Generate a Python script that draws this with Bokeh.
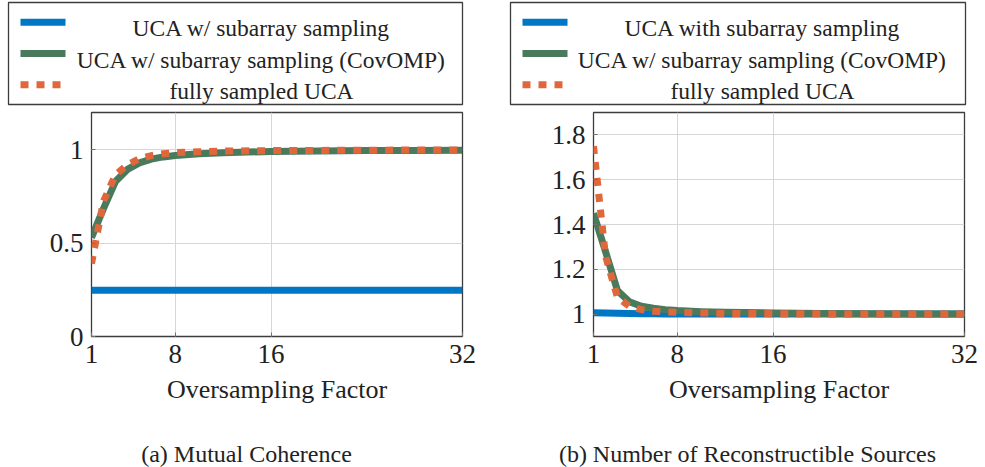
from bokeh.plotting import figure
from bokeh.layouts import row, column
from bokeh.models import FixedTicker, Range1d
from bokeh.embed import file_html
from bokeh.resources import INLINE

# ---------------- data ----------------
oversampling = [1, 2, 3, 4, 5, 6, 7, 8, 10, 12, 16, 20, 24, 28, 32]

# (a) Mutual Coherence
coh_subarray = [0.248, 0.248, 0.248, 0.248, 0.248, 0.248, 0.248, 0.248,
                0.248, 0.248, 0.248, 0.248, 0.248, 0.248, 0.248]
coh_covomp = [0.53, 0.685, 0.83, 0.895, 0.93, 0.95, 0.962, 0.97,
              0.979, 0.985, 0.991, 0.994, 0.996, 0.997, 0.998]
coh_full = [0.39, 0.725, 0.865, 0.92, 0.952, 0.969, 0.979, 0.985,
            0.99, 0.993, 0.996, 0.997, 0.998, 0.999, 0.999]

# (b) Number of Reconstructible Sources
src_subarray = [1.006, 1.005, 1.004, 1.003, 1.002, 1.002, 1.001, 1.001,
                1.001, 1.0, 1.0, 1.0, 1.0, 1.0, 1.0]
src_covomp = [1.45, 1.28, 1.105, 1.055, 1.035, 1.026, 1.02, 1.016,
              1.011, 1.008, 1.005, 1.003, 1.002, 1.001, 1.0]
src_full = [1.75, 1.26, 1.075, 1.035, 1.02, 1.013, 1.01, 1.008,
            1.005, 1.003, 1.002, 1.001, 1.001, 1.0, 1.0]

x_ticks = [1, 8, 16, 32]
coh_ticks = [0, 0.5, 1]
coh_tick_labels = ["0", "0.5", "1"]
src_ticks = [1, 1.2, 1.4, 1.6, 1.8]
src_tick_labels = ["1", "1.2", "1.4", "1.6", "1.8"]

x_label = "Oversampling Factor"
legend_a = ["UCA w/ subarray sampling",
            "UCA w/ subarray sampling (CovOMP)",
            "fully sampled UCA"]
legend_b = ["UCA with subarray sampling",
            "UCA w/ subarray sampling (CovOMP)",
            "fully sampled UCA"]
caption_a = "(a) Mutual Coherence"
caption_b = "(b) Number of Reconstructible Sources"

# ---------------- styles ----------------
BLUE = "#0077C4"
GREEN = "#4A7A5C"
ORANGE = "#E0663C"
SERIF = "'Liberation Serif', 'Times New Roman', serif"
FRAME = "#3c3c3c"
TEXT = "#222222"
colors = [BLUE, GREEN, ORANGE]
dashed = [False, False, True]

LEG_H = 108
MAIN_H = 312
CAP_H = 467 - LEG_H - MAIN_H


def blank(width, height):
    f = figure(width=width, height=height, output_backend="svg", toolbar_location=None,
               x_range=Range1d(0, width), y_range=Range1d(height, 0),
               min_border_left=0, min_border_right=0, min_border_top=0, min_border_bottom=0,
               frame_align=False)
    f.axis.visible = False
    f.grid.visible = False
    f.outline_line_color = None
    f.background_fill_color = "white"
    f.border_fill_color = "white"
    return f


def legend_fig(width, labels, box_l, box_r, glyph_l, glyph_r, lab_x):
    f = blank(width, LEG_H)
    f.quad(left=[box_l], right=[box_r], top=[2], bottom=[104],
           fill_color="white", line_color=FRAME, line_width=1.3)
    rows_y = [21.7, 53.0, 84.2]
    base_y = [27.7, 59.0, 90.3]
    for ry, c, d in zip(rows_y, colors, dashed):
        if d:
            f.line([glyph_l, glyph_r], [ry, ry], line_color=c, line_width=7,
                   line_dash="8 8", line_cap="butt")
        else:
            f.line([glyph_l, glyph_r], [ry, ry], line_color=c, line_width=7, line_cap="butt")
    f.text(x=[lab_x] * len(labels), y=base_y, text=labels,
           text_align="center", text_baseline="alphabetic",
           text_font={"value": SERIF}, text_font_size="23.5px", text_color=TEXT)
    return f


def caption_fig(width, caption, cap_x):
    f = blank(width, CAP_H)
    f.text(x=[cap_x], y=[453 - LEG_H - MAIN_H], text=[caption],
           text_align="center", text_baseline="alphabetic",
           text_font={"value": SERIF}, text_font_size="24px", text_color=TEXT)
    return f


def main_fig(width, b_left, b_right, y_lo, y_hi, y_ticks, y_labels, ys):
    p = figure(width=width, height=MAIN_H, output_backend="svg", toolbar_location=None,
               x_range=Range1d(1, 32), y_range=Range1d(y_lo, y_hi),
               min_border_left=b_left, min_border_right=b_right,
               min_border_top=112 - LEG_H, min_border_bottom=MAIN_H - 224 - (112 - LEG_H),
               frame_align=False)
    p.background_fill_color = "white"
    p.border_fill_color = "white"
    p.outline_line_color = FRAME
    p.outline_line_width = 1.3

    for y, c, d in zip(ys, colors, dashed):
        if d:
            p.line(oversampling, y, line_color=c, line_width=7, line_dash="8 8",
                   line_cap="butt", line_join="miter")
        else:
            p.line(oversampling, y, line_color=c, line_width=7, line_join="round")

    p.xaxis.ticker = FixedTicker(ticks=x_ticks)
    p.yaxis.ticker = FixedTicker(ticks=y_ticks)
    p.yaxis.major_label_overrides = {t: s for t, s in zip(y_ticks, y_labels)}
    p.xaxis.major_label_overrides = {t: str(t) for t in x_ticks}
    for ax in (p.xaxis[0], p.yaxis[0]):
        ax.axis_line_color = None
        ax.major_tick_in = 4
        ax.major_tick_out = 0
        ax.major_tick_line_color = "#707070"
        ax.minor_tick_line_color = None
        ax.major_label_text_font = SERIF
        ax.major_label_text_font_size = "27px"
        ax.major_label_text_color = TEXT
        ax.major_label_standoff = 8
    p.xaxis.axis_label = x_label
    p.xaxis.axis_label_text_font = SERIF
    p.xaxis.axis_label_text_font_size = "26px"
    p.xaxis.axis_label_text_font_style = "normal"
    p.xaxis.axis_label_text_color = TEXT
    p.xaxis.axis_label_standoff = 9

    p.xgrid.grid_line_color = "#d6d6d6"
    p.ygrid.grid_line_color = "#d6d6d6"
    return p


left = column(
    legend_fig(492, legend_a, 8, 462, 20, 65, 261),
    main_fig(492, 91, 30, 0, 1.2, coh_ticks, coh_tick_labels,
             [coh_subarray, coh_covomp, coh_full]),
    caption_fig(492, caption_a, 246),
    spacing=0)
right = column(
    legend_fig(493, legend_b, 18, 473, 30, 75, 270),
    main_fig(493, 101, 21, 0.9, 1.9, src_ticks, src_tick_labels,
             [src_subarray, src_covomp, src_full]),
    caption_fig(493, caption_b, 255),
    spacing=0)

layout = row(left, right, spacing=0)
open("out.html", "w").write(file_html(layout, INLINE))
